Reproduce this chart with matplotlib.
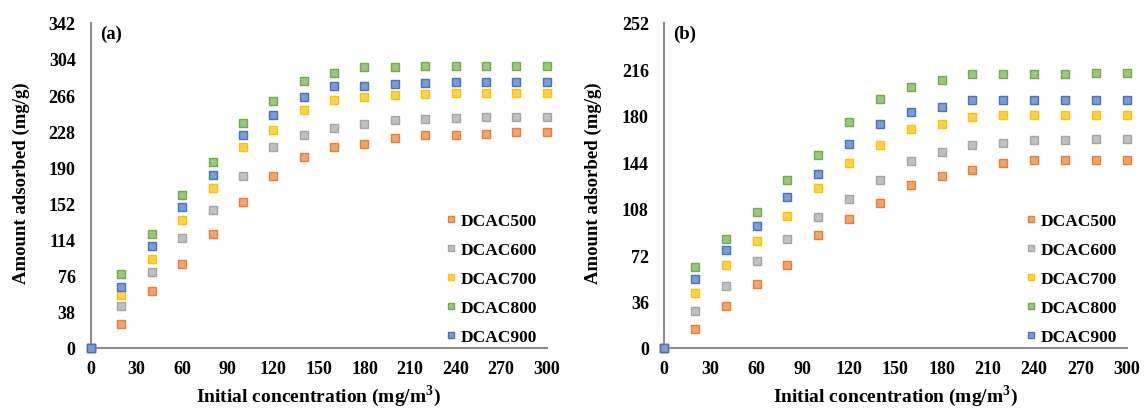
import numpy as np
import matplotlib.pyplot as plt

conc = [0, 20, 40, 60, 80, 100, 120, 140, 160, 180, 200, 220, 240, 260, 280, 300]
labels = ["DCAC500", "DCAC600", "DCAC700", "DCAC800", "DCAC900"]
colors = ["#ED7D31", "#A5A5A5", "#FFC000", "#70AD47", "#4472C4"]

# panel (a)
a500 = [0, 25, 60, 88, 120, 153, 181, 201, 211, 214, 221, 224, 224, 225, 227, 227]
a600 = [0, 44, 80, 116, 145, 181, 211, 224, 231, 236, 240, 241, 242, 243, 243, 243]
a700 = [0, 56, 93, 135, 168, 211, 229, 250, 261, 264, 266, 267, 268, 268, 268, 268]
a800 = [0, 78, 120, 161, 196, 237, 260, 281, 289, 295, 296, 297, 297, 297, 297, 297]
a900 = [0, 64, 107, 148, 182, 224, 245, 264, 275, 276, 278, 279, 280, 280, 280, 280]

# panel (b)
b500 = [0, 14.5, 32.6, 49.9, 64.6, 87.9, 100.3, 112.7, 125.9, 133.1, 138, 143.2, 145.5, 145.5, 145.5, 145.5]
b600 = [0, 28.7, 48.3, 67.2, 84.5, 101.1, 115.8, 130, 144.7, 152.2, 157.1, 159, 161.3, 161.3, 162, 162]
b700 = [0, 42.6, 64.1, 83, 102.6, 124, 143.2, 157.1, 169.6, 173.7, 178.6, 180.9, 180.9, 180.9, 180.9, 180.9]
b800 = [0, 62.5, 84.5, 105.2, 130, 149.7, 175.2, 192.6, 202.6, 207.5, 212.5, 212.5, 212.5, 212.5, 213.2, 213.2]
b900 = [0, 53.2, 76.2, 94.3, 116.6, 134.9, 157.9, 173.7, 182.7, 186.9, 191.8, 191.8, 191.8, 191.8, 191.8, 191.8]

plt.rcParams['font.family'] = ['Liberation Serif', 'DejaVu Serif']
plt.rcParams['font.weight'] = 'bold'
plt.rcParams['mathtext.fontset'] = 'custom'
plt.rcParams['mathtext.bf'] = 'Liberation Serif:bold'
plt.rcParams['mathtext.rm'] = 'Liberation Serif:bold'

fig = plt.figure(figsize=(11.45, 4.10), dpi=100)
ax1 = fig.add_axes([0.0795, 0.149, 0.398, 0.793])
ax2 = fig.add_axes([0.580, 0.149, 0.404, 0.793])


def lighten(c, f=0.3):
    c = np.array(plt.matplotlib.colors.to_rgb(c))
    return tuple(c + (1 - c) * f)


def panel(ax, series, ymax, ystep, tag):
    for vals, lab, col in zip(series, labels, colors):
        ax.plot(conc, vals, ls="none", marker="s", ms=5.2, mfc=lighten(col),
                mec=col, mew=1.0, label=lab, clip_on=False, zorder=3)
    ax.set_xlim(0, 300)
    ax.set_ylim(0, ymax)
    ax.set_xticks(np.arange(0, 301, 30))
    ax.set_yticks(np.arange(0, ymax + 1, ystep))
    for s in ["top", "right"]:
        ax.spines[s].set_visible(False)
    for s in ["left", "bottom"]:
        ax.spines[s].set_color("#8c8c8c")
        ax.spines[s].set_linewidth(1.5)
    ax.tick_params(axis="y", length=0, labelsize=13, pad=11)
    ax.tick_params(axis="x", length=0, labelsize=13, pad=9)
    for t in ax.get_xticklabels() + ax.get_yticklabels():
        t.set_fontweight("bold")
    ax.set_xlabel("Initial concentration (mg/m$^3$)", fontsize=14, fontweight="bold")
    ax.set_ylabel("Amount adsorbed (mg/g)", fontsize=13.5, fontweight="bold")
    ax.xaxis.set_label_coords(0.5, -0.105)
    ax.yaxis.set_label_coords(-0.135, 0.51)
    ax.text(0.02, 0.995, tag, transform=ax.transAxes, fontsize=13.5,
            fontweight="bold", va="top", ha="left")
    ax.legend(loc="lower right", bbox_to_anchor=(0.995, -0.013), frameon=False,
              prop={"size": 12.5, "weight": "bold"}, handlelength=0.5,
              handletextpad=0.35, labelspacing=0.74, markerscale=0.85,
              borderaxespad=0.2, borderpad=0.2)


panel(ax1, [a500, a600, a700, a800, a900], 342, 38, "(a)")
panel(ax2, [b500, b600, b700, b800, b900], 252, 36, "(b)")

fig.savefig("out.png", dpi=100)
